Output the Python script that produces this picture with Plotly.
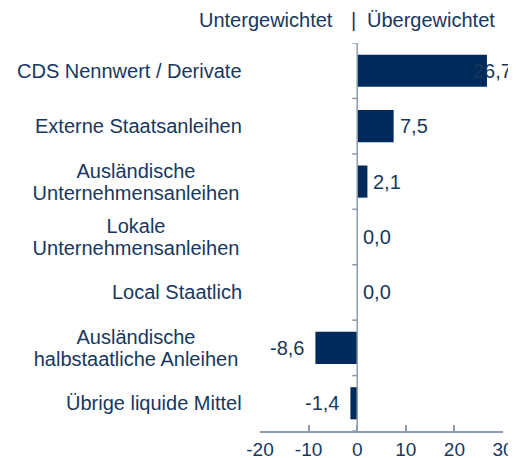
import plotly.graph_objects as go

categories = [
    "CDS Nennwert / Derivate",
    "Externe Staatsanleihen",
    "Ausländische\nUnternehmensanleihen",
    "Lokale\nUnternehmensanleihen",
    "Local Staatlich",
    "Ausländische\nhalbstaatliche Anleihen",
    "Übrige liquide Mittel",
]
values = [26.7, 7.5, 2.1, 0.0, 0.0, -8.6, -1.4]
value_labels = ["26,7", "7,5", "2,1", "0,0", "0,0", "-8,6", "-1,4"]
x_tickvals = [-20, -10, 0, 10, 20, 30]
x_ticktext = ["-20", "-10", "0", "10", "20", "30"]
header_left = "Untergewichtet"
header_right = "Übergewichtet"

TEXT = "#17375E"
BAR = "#002A5C"
AXIS = "#8C9BAD"
FONT = "Liberation Sans, Arial, sans-serif"
FS = 20
X_RANGE = [-20, 30]

n_cat = len(categories)

fig = go.Figure()
fig.add_trace(go.Bar(
    x=values, y=list(range(n_cat)), orientation="h",
    marker=dict(color=BAR, line=dict(width=0)),
    hoverinfo="skip",
))

ann = []
LINE_H = 22
for i_c, c in enumerate(categories):
    lines = c.split("\n")
    n = len(lines)
    for i, ln in enumerate(lines):
        a = dict(
            x=0, xref="paper", y=i_c, yref="y",
            text=ln, showarrow=False, xanchor="right", yanchor="middle",
            xshift=-16, yshift=((n - 1) / 2 - i) * LINE_H,
            font=dict(family=FONT, size=FS, color=TEXT),
        )
        if n > 1:
            a["width"] = 212
            a["align"] = "center"
        ann.append(a)

for i_c, (v, t) in enumerate(zip(values, value_labels)):
    if v < 0:
        anc, sh = "right", -9
    elif v > X_RANGE[1] - 5:
        anc, sh = "left", -16
    else:
        anc, sh = "left", 4
    ann.append(dict(x=v, xref="x", y=i_c, yref="y", text=t, showarrow=False,
                    xanchor=anc, yanchor="middle", xshift=sh,
                    font=dict(family=FONT, size=FS, color=TEXT)))

for txt, anc, sh in [(header_left, "right", -22), ("|", "center", -4), (header_right, "left", 8)]:
    ann.append(dict(x=0, xref="x", y=1, yref="paper", text=txt, showarrow=False,
                    xanchor=anc, yanchor="middle", xshift=sh, yshift=23,
                    font=dict(family=FONT, size=FS, color=TEXT)))

shapes = [dict(type="line", xref="x", yref="paper", x0=0, x1=0, y0=0, y1=1,
               line=dict(color=AXIS, width=1.5), layer="above")]
for k in range(n_cat + 1):
    b = k - 0.5
    shapes.append(dict(type="line", xref="x", yref="y", xsizemode="pixel", xanchor=0,
                       x0=-5, x1=0, y0=b, y1=b, line=dict(color=AXIS, width=1.5)))

fig.update_layout(
    width=508, height=450,
    margin=dict(l=252, r=13, t=35, b=27, autoexpand=False),
    paper_bgcolor="white", plot_bgcolor="white",
    showlegend=False,
    bargap=0.42,
    annotations=ann,
    shapes=shapes,
    font=dict(family=FONT, size=FS, color=TEXT),
    xaxis=dict(
        range=X_RANGE, tickvals=x_tickvals, ticktext=x_ticktext,
        ticks="inside", ticklen=6, tickcolor=AXIS, tickwidth=1.5,
        showline=True, linecolor=AXIS, linewidth=1.5,
        showgrid=False, zeroline=False, automargin=False,
        ticklabelstandoff=0,
        tickfont=dict(family=FONT, size=19, color=TEXT),
    ),
    yaxis=dict(
        range=[n_cat - 0.5, -0.5],
        showline=False, showticklabels=False, ticks="",
        showgrid=False, zeroline=False, automargin=False,
    ),
)

fig.write_html("out.html")
